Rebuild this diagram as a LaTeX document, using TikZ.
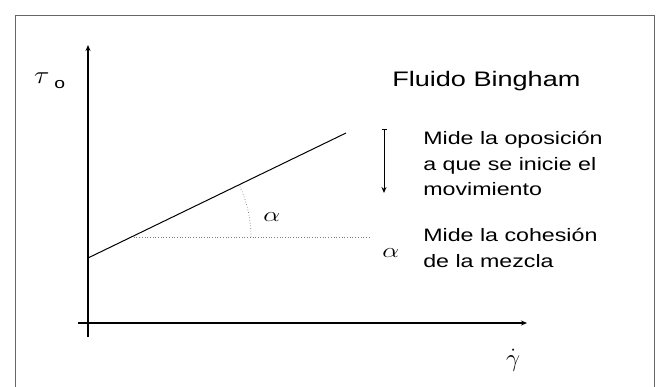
\documentclass[tikz,border=0pt]{standalone}
\usepackage{fontspec}
\setmainfont{Liberation Sans}
\usetikzlibrary{arrows.meta}
\begin{document}
\begin{tikzpicture}[x=1pt,y=-1pt,
  lbl/.style={inner sep=0pt, xscale=1.29, anchor=base west},
  body/.style={lbl, font=\fontsize{18}{25}\selectfont},
  axis/.style={line width=1.1pt, -{Stealth[length=6pt,width=5pt]}},
  guide/.style={dotted, line width=0.7pt, gray}]
\useasboundingbox (0,0) rectangle (658,387);
\draw[gray!80!black, line width=0.8pt] (15,390) -- (15,15) -- (654,15) -- (654,390);
% axes
\coordinate (o) at (88,323);
\coordinate (ybot) at (88,337);
\coordinate (ytop) at (88,45);
\coordinate (xl) at (78,323);
\coordinate (xr) at (527,323);
\draw[axis] (ybot) -- (ytop);
\draw[axis] (xl) -- (xr);
% Bingham line
\coordinate (b0) at (88,258);
\coordinate (b1) at (346,133);
\draw[line width=1pt] (b0) -- (b1);
% horizontal guide
\coordinate (h0) at (131,237);
\coordinate (h1) at (369,237);
\draw[guide] (h0) -- (h1);
% angle arc
\draw[guide] (251,237) arc[start angle=0, end angle=-25.8, radius=120];
% labels
\node[inner sep=0pt, xscale=1.15, anchor=base west, font=\fontsize{26}{26}\selectfont] (tau) at (34,84) {$\mathrm{\tau}$};
\node[lbl, font=\fontsize{15}{15}\selectfont] (tsub) at (54,89) {o};
\node[lbl, font=\fontsize{21}{21}\selectfont] (title) at (392,87) {Fluido Bingham};
\node[lbl, font=\fontsize{22}{22}\selectfont] (a1) at (263,222) {$\alpha$};
\node[lbl, font=\fontsize{22}{22}\selectfont] (a2) at (382,258) {$\alpha$};
\node[inner sep=0pt, anchor=base west, font=\fontsize{30}{30}\selectfont] (gam) at (506,366) {$\dot\gamma$};
% vertical arrow
\coordinate (v0) at (384,129);
\coordinate (v1) at (384,193);
\draw[line width=1pt, {Bar[width=5pt]}-{Stealth[length=6pt,width=5pt]}] (v0) -- (v1);
% texts
\node[body] (t1) at (423,145) {Mide la oposición};
\node[body] (t2) at (423,171) {a que se inicie el};
\node[body] (t3) at (423,196) {movimiento};
\node[body] (t4) at (423,241) {Mide la cohesión};
\node[body] (t5) at (423,267) {de la mezcla};
\end{tikzpicture}
\end{document}
